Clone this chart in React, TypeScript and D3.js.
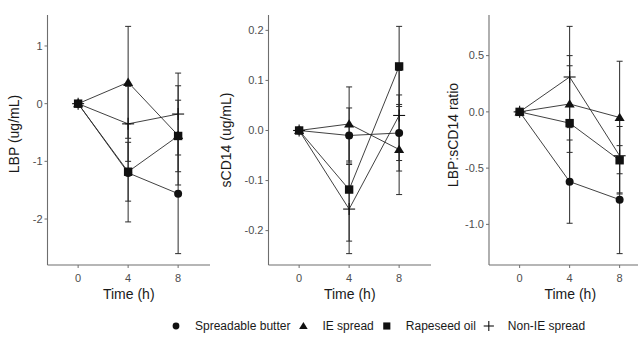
import React from "react";
import * as d3 from "d3";

// Sampling times (h)
const times = [0, 4, 8];
const groups = ["Spreadable butter", "IE spread", "Rapeseed oil", "Non-IE spread"];

// LBP change from baseline (ug/mL): mean and error per group
const lbpButter = [0, -1.2, -1.56];
const lbpButterErr = [0, 0.85, 1.04];
const lbpIE = [0, 0.37, -0.55];
const lbpIEErr = [0, 0.97, 0.86];
const lbpRapeseed = [0, -1.18, -0.56];
const lbpRapeseedErr = [0, 0.51, 0.62];
const lbpNonIE = [0, -0.35, -0.18];
const lbpNonIEErr = [0, 0.65, 0.71];

// sCD14 change from baseline (ug/mL)
const cdButter = [0, -0.01, -0.005];
const cdButterErr = [0, 0.055, 0.076];
const cdIE = [0, 0.013, -0.038];
const cdIEErr = [0, 0.074, 0.09];
const cdRapeseed = [0, -0.118, 0.128];
const cdRapeseedErr = [0, 0.103, 0.08];
const cdNonIE = [0, -0.157, 0.03];
const cdNonIEErr = [0, 0.089, 0.09];

// LBP:sCD14 ratio change from baseline
const ratioButter = [0, -0.62, -0.78];
const ratioButterErr = [0, 0.37, 0.48];
const ratioIE = [0, 0.07, -0.05];
const ratioIEErr = [0, 0.43, 0.5];
const ratioRapeseed = [0, -0.1, -0.43];
const ratioRapeseedErr = [0, 0.51, 0.3];
const ratioNonIE = [0, 0.31, -0.39];
const ratioNonIEErr = [0, 0.45, 0.33];

// Axis ticks
const xTicks = [0, 4, 8];
const lbpTicks = [-2, -1, 0, 1];
const cdTicks = [-0.2, -0.1, 0.0, 0.1, 0.2];
const ratioTicks = [-1.0, -0.5, 0.0, 0.5];

type Series = { mean: number[]; err: number[] };

const panels = [
  {
    title: "LBP (ug/mL)",
    x0: 47.5,
    titleX: 14,
    titleY: 134,
    ticks: lbpTicks,
    fmt: (v: number) => String(v),
    series: [
      { mean: lbpButter, err: lbpButterErr },
      { mean: lbpIE, err: lbpIEErr },
      { mean: lbpRapeseed, err: lbpRapeseedErr },
      { mean: lbpNonIE, err: lbpNonIEErr },
    ] as Series[],
  },
  {
    title: "sCD14 (ug/mL)",
    x0: 268.5,
    titleX: 226,
    titleY: 140,
    ticks: cdTicks,
    fmt: (v: number) => v.toFixed(1),
    series: [
      { mean: cdButter, err: cdButterErr },
      { mean: cdIE, err: cdIEErr },
      { mean: cdRapeseed, err: cdRapeseedErr },
      { mean: cdNonIE, err: cdNonIEErr },
    ] as Series[],
  },
  {
    title: "LBP:sCD14 ratio",
    x0: 489,
    titleX: 453,
    titleY: 135,
    ticks: ratioTicks,
    fmt: (v: number) => v.toFixed(1),
    series: [
      { mean: ratioButter, err: ratioButterErr },
      { mean: ratioIE, err: ratioIEErr },
      { mean: ratioRapeseed, err: ratioRapeseedErr },
      { mean: ratioNonIE, err: ratioNonIEErr },
    ] as Series[],
  },
];

const W = 638;
const H = 341;
const TOP = 15;
const BOTTOM = 265;
const PANEL_W = 162.5;
const FONT = "'Liberation Sans', Arial, sans-serif";
const AXIS_COLOR = "#6e6e6e";
const TEXT_GRAY = "#4d4d4d";
const INK = "#111";
const LINE = "#2b2b2b";

function Marker({ shape, x, y, scale = 1 }: { shape: number; x: number; y: number; scale?: number }) {
  if (shape === 0) return <circle cx={x} cy={y} r={4 * scale} fill={INK} />;
  if (shape === 1) {
    const s = 4.8 * scale;
    const pts = `${x},${y - s} ${x + s * 1.05},${y + s * 0.75} ${x - s * 1.05},${y + s * 0.75}`;
    return <polygon points={pts} fill={INK} />;
  }
  if (shape === 2) {
    const s = 4.2 * scale;
    return <rect x={x - s} y={y - s} width={2 * s} height={2 * s} fill={INK} />;
  }
  const a = 6 * scale;
  return (
    <g stroke={INK} strokeWidth={1.1}>
      <line x1={x - a} x2={x + a} y1={y} y2={y} />
      <line x1={x} x2={x} y1={y - a} y2={y + a} />
    </g>
  );
}

function Panel({ p }: { p: (typeof panels)[number] }) {
  const x = d3.scaleLinear().domain([-2.45, 10.55]).range([p.x0, p.x0 + PANEL_W]);
  const lo = d3.min(p.series, (s) => d3.min(s.mean, (m, i) => m - s.err[i])) as number;
  const hi = d3.max(p.series, (s) => d3.max(s.mean, (m, i) => m + s.err[i])) as number;
  const pad = (hi - lo) * 0.05;
  const y = d3.scaleLinear().domain([lo - pad, hi + pad]).range([BOTTOM, TOP]);
  const line = d3
    .line<number>()
    .x((_, i) => x(times[i]))
    .y((d) => y(d));

  return (
    <g>
      {/* axes */}
      <line x1={p.x0} x2={p.x0} y1={TOP} y2={BOTTOM} stroke={AXIS_COLOR} strokeWidth={1.1} />
      <line x1={p.x0} x2={p.x0 + PANEL_W} y1={BOTTOM} y2={BOTTOM} stroke={AXIS_COLOR} strokeWidth={1.1} />
      {p.ticks.map((t) => (
        <g key={t}>
          <line x1={p.x0 - 3} x2={p.x0} y1={y(t)} y2={y(t)} stroke={AXIS_COLOR} strokeWidth={1} />
          <text
            x={p.x0 - 5}
            y={y(t)}
            dy="0.35em"
            textAnchor="end"
            fontSize={11}
            fill={TEXT_GRAY}
            fontFamily={FONT}
          >
            {p.fmt(t)}
          </text>
        </g>
      ))}
      {xTicks.map((t) => (
        <g key={t}>
          <line x1={x(t)} x2={x(t)} y1={BOTTOM} y2={BOTTOM + 3} stroke={AXIS_COLOR} strokeWidth={1} />
          <text x={x(t)} y={BOTTOM + 17} textAnchor="middle" fontSize={11} fill={TEXT_GRAY} fontFamily={FONT}>
            {t}
          </text>
        </g>
      ))}
      <text
        x={p.x0 + PANEL_W / 2}
        y={BOTTOM + 34}
        textAnchor="middle"
        fontSize={14}
        fill="#1a1a1a"
        fontFamily={FONT}
      >
        Time (h)
      </text>
      <text
        transform={`translate(${p.titleX},${p.titleY}) rotate(-90)`}
        dy="0.35em"
        textAnchor="middle"
        fontSize={14}
        fill="#1a1a1a"
        fontFamily={FONT}
      >
        {p.title}
      </text>

      {/* connecting lines */}
      {p.series.map((s, k) => (
        <path key={`l${k}`} d={line(s.mean) || ""} fill="none" stroke={LINE} strokeWidth={0.9} />
      ))}

      {/* error bars */}
      {p.series.map((s, k) =>
        s.mean.map((m, i) => {
          const cx = x(times[i]);
          const y1 = y(m + s.err[i]);
          const y2 = y(m - s.err[i]);
          return (
            <g key={`e${k}-${i}`} stroke={LINE} strokeWidth={1}>
              <line x1={cx} x2={cx} y1={y1} y2={y2} />
              <line x1={cx - 3} x2={cx + 3} y1={y1} y2={y1} />
              <line x1={cx - 3} x2={cx + 3} y1={y2} y2={y2} />
            </g>
          );
        })
      )}

      {/* points */}
      {p.series.map((s, k) =>
        s.mean.map((m, i) => <Marker key={`p${k}-${i}`} shape={k} x={x(times[i])} y={y(m)} />)
      )}
    </g>
  );
}

// Legend text widths at 12px for Arial-metric fonts
const legendTextWidths = [95.4, 51.4, 70, 77.4];

function Legend() {
  const ly = 326;
  let c = 176;
  const items = groups.map((g, k) => {
    const mx = c;
    const tx = c + 19;
    c = tx + legendTextWidths[k] + 13;
    return { g, k, mx, tx };
  });
  return (
    <g>
      {items.map((it) => (
        <g key={it.g}>
          <Marker shape={it.k} x={it.mx} y={ly} scale={0.85} />
          <text x={it.tx} y={ly} dy="0.35em" fontSize={12} fill="#1a1a1a" fontFamily={FONT}>
            {it.g}
          </text>
        </g>
      ))}
    </g>
  );
}

export default function App() {
  return (
    <svg
      width={W}
      height={H}
      viewBox={`0 0 ${W} ${H}`}
      style={{ position: "absolute", left: 0, top: 0, background: "#fff" }}
    >
      <rect width={W} height={H} fill="#fff" />
      {panels.map((p) => (
        <Panel key={p.title} p={p} />
      ))}
      <Legend />
    </svg>
  );
}
